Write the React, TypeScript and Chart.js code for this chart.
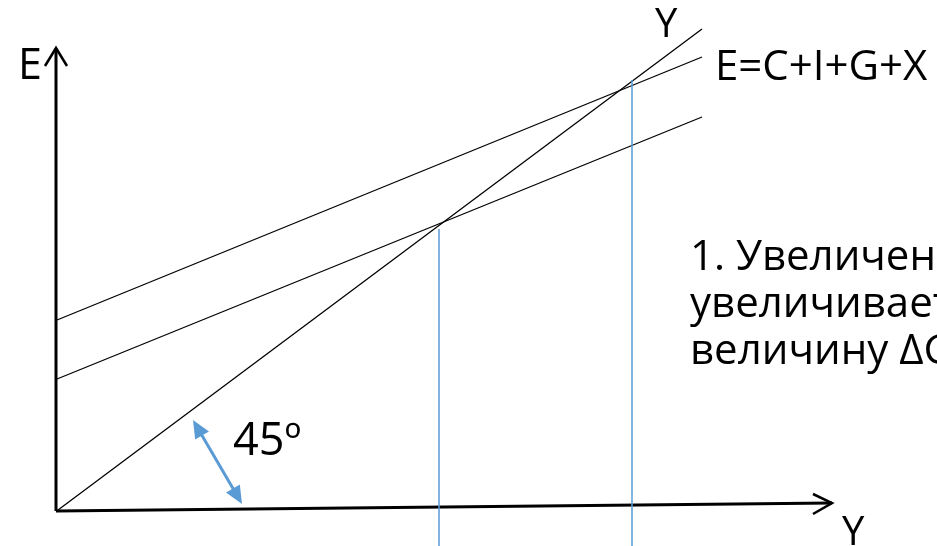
import React, { useEffect, useRef } from "react";
import { Chart, registerables } from "chart.js";
Chart.register(...registerables);

// Coordinate system: E (vertical) and Y (horizontal) in diagram units, origin at the axes' corner.
const X_MIN = -57;
const X_MAX = 880;
const Y_MIN = -36;
const Y_MAX = 510;

// Lines of the Keynesian cross
const LINE_45 = [{ x: 1, y: 0 }, { x: 645, y: 481 }];
const E_NEW = [{ x: 0, y: 190 }, { x: 645, y: 453 }];
const E_OLD = [{ x: 0, y: 131 }, { x: 645, y: 393 }];
const DROP_Y1 = [{ x: 382, y: 281 }, { x: 382, y: -36 }];
const DROP_Y2 = [{ x: 575, y: 430 }, { x: 575, y: -36 }];

// Axes with open arrow heads
const AXIS_E = [{ x: -1, y: -1 }, { x: -1, y: 462 }];
const AXIS_E_HEAD = [{ x: -12, y: 444 }, { x: -1, y: 462 }, { x: 10, y: 444 }];
const AXIS_Y = [{ x: -1, y: -1 }, { x: 775, y: 7 }];
const AXIS_Y_HEAD = [{ x: 756, y: 16 }, { x: 775, y: 7 }, { x: 756, y: -4 }];

// Double arrow marking the 45° angle
const ANGLE_ARROW = [{ x: 136, y: 90 }, { x: 185, y: 6 }];

// Text annotations
const LABEL_TEXTS = [
  "E",
  "Y",
  "E=C+I+G+X",
  "Y",
  "45º",
  "1. Увеличение государственных расходов",
  "увеличивает совокупные расходы на",
  "величину ΔG",
];
const LABEL_X = [-39, 598, 658, 785, 176, 633, 633, 633];
const LABEL_Y = [431, 473, 430, -35, 55, 240, 193, 146];
const LABEL_SIZES = [43, 40, 42, 40, 45, 42, 42, 42];

const FONT = "'Open Sans', 'Noto Sans', sans-serif";
const BLUE = "#5B9BD5";

const overlay = {
  id: "overlay",
  afterDatasetsDraw(chart: any) {
    const { ctx, scales } = chart;
    const xs = scales.x;
    const ys = scales.y;
    ctx.save();
    // blue double arrow
    const ax1 = xs.getPixelForValue(ANGLE_ARROW[0].x);
    const ay1 = ys.getPixelForValue(ANGLE_ARROW[0].y);
    const ax2 = xs.getPixelForValue(ANGLE_ARROW[1].x);
    const ay2 = ys.getPixelForValue(ANGLE_ARROW[1].y);
    const len = Math.hypot(ax2 - ax1, ay2 - ay1);
    const ux = (ax2 - ax1) / len;
    const uy = (ay2 - ay1) / len;
    const headL = 18;
    const headW = 8;
    ctx.strokeStyle = BLUE;
    ctx.fillStyle = BLUE;
    ctx.lineWidth = 3;
    ctx.beginPath();
    ctx.moveTo(ax1 + ux * headL * 0.8, ay1 + uy * headL * 0.8);
    ctx.lineTo(ax2 - ux * headL * 0.8, ay2 - uy * headL * 0.8);
    ctx.stroke();
    const head = (tx: number, ty: number, dx: number, dy: number) => {
      const bx = tx - dx * headL;
      const by = ty - dy * headL;
      ctx.beginPath();
      ctx.moveTo(tx, ty);
      ctx.lineTo(bx - dy * headW, by + dx * headW);
      ctx.lineTo(bx + dy * headW, by - dx * headW);
      ctx.closePath();
      ctx.fill();
    };
    head(ax1, ay1, -ux, -uy);
    head(ax2, ay2, ux, uy);

    // texts
    ctx.fillStyle = "#000";
    ctx.textAlign = "left";
    ctx.textBaseline = "alphabetic";
    LABEL_TEXTS.forEach((t, i) => {
      ctx.font = `${LABEL_SIZES[i]}px ${FONT}`;
      ctx.fillText(t, xs.getPixelForValue(LABEL_X[i]), ys.getPixelForValue(LABEL_Y[i]));
    });
    ctx.restore();
  },
};

function line(data: any[], color: string, width: number) {
  return {
    data,
    borderColor: color,
    borderWidth: width,
    pointRadius: 0,
    showLine: true,
    fill: false,
    tension: 0,
    borderCapStyle: "butt",
    borderJoinStyle: "miter",
  };
}

export default function App() {
  const ref = useRef<HTMLCanvasElement | null>(null);
  useEffect(() => {
    if (!ref.current) return;
    const chart = new Chart(ref.current, {
      type: "scatter",
      data: {
        datasets: [
          line(DROP_Y1, BLUE, 1.5),
          line(DROP_Y2, BLUE, 1.5),
          line(LINE_45, "#000", 1.3),
          line(E_NEW, "#000", 1.3),
          line(E_OLD, "#000", 1.3),
          line(AXIS_E, "#000", 3),
          line(AXIS_E_HEAD, "#000", 2.5),
          line(AXIS_Y, "#000", 3),
          line(AXIS_Y_HEAD, "#000", 2.5),
        ] as any,
      },
      options: {
        animation: false,
        responsive: false,
        layout: { padding: 0 },
        plugins: { legend: { display: false }, tooltip: { enabled: false } },
        events: [],
        scales: {
          x: { type: "linear", min: X_MIN, max: X_MAX, display: false },
          y: { type: "linear", min: Y_MIN, max: Y_MAX, display: false },
        },
      },
      plugins: [overlay],
    });
    return () => chart.destroy();
  }, []);
  return (
    <div style={{ position: "fixed", left: 0, top: 0, width: 937, height: 546, background: "#fff", overflow: "hidden" }}>
      <canvas ref={ref} width={937} height={546} style={{ display: "block" }} />
    </div>
  );
}
